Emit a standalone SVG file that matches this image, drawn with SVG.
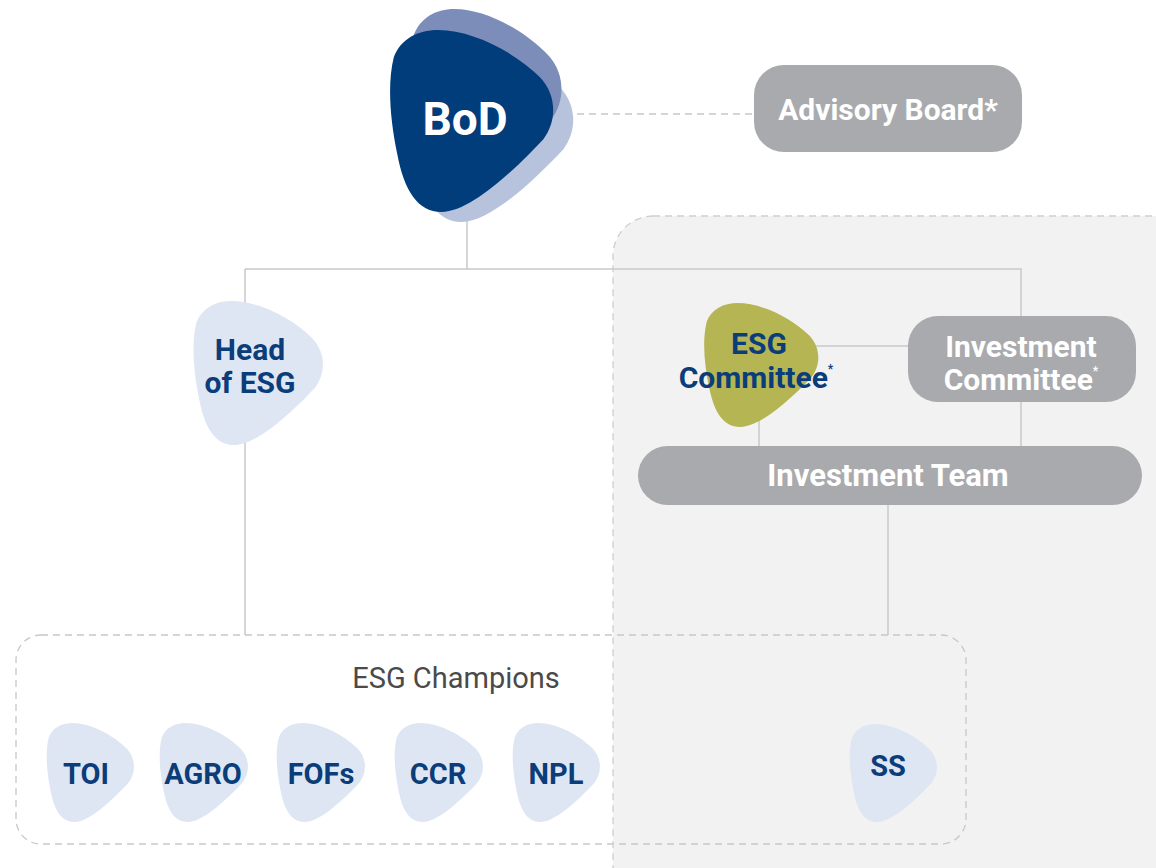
<svg xmlns="http://www.w3.org/2000/svg" width="1156" height="868" viewBox="0 0 1156 868">
<style>
.conn{fill:none;stroke:#c9c9c9;stroke-width:1.5}
.dash{fill:none;stroke:#c8c8c8;stroke-width:1.3;stroke-dasharray:7 5}
.pill{fill:#a9aaad}
.wt{font-family:Roboto,"Liberation Sans",sans-serif;font-weight:700;fill:#ffffff;text-anchor:middle}
.nt{font-family:Roboto,"Liberation Sans",sans-serif;font-weight:700;fill:#0a3d79;text-anchor:middle}
.champ{fill:#dfe6f3}
</style>
<defs>
<symbol id="blob" viewBox="0 0 100 100" preserveAspectRatio="none">
<path d="M30,0 C50,0 75,12 90,26 C100,36 100,50 92,60 C78,74 50,100 32,100 C18,100 10,88 6,68 C2,50 0,30 4,15 C8,5 18,0 30,0 Z"/>
</symbol>
</defs>
<rect width="1156" height="868" fill="#ffffff"/>
<g id="panel">
<rect x="613" y="216" width="620" height="720" rx="40" fill="#f2f2f2" stroke="#cfcfcf" stroke-width="1.3" stroke-dasharray="7 5"/>
</g>
<g id="champions-box">
<rect x="16" y="635" width="950" height="209" rx="25" class="dash"/>
<text x="456" y="688" font-family="Roboto,'Liberation Sans',sans-serif" font-size="29" fill="#4a4a4a" text-anchor="middle">ESG Champions</text>
</g>
<g id="connectors">
<path class="dash" d="M577,114 H754"/>
<path class="conn" d="M467,200 V269"/>
<path class="conn" d="M245,269 H1021 V316"/>
<path class="conn" d="M245,269 V635"/>
<path class="conn" d="M800,346 H908"/>
<path class="conn" d="M759,400 V446"/>
<path class="conn" d="M1021,402 V446"/>
<path class="conn" d="M888,505 V635"/>
</g>
<g id="bod">
<use href="#blob" x="407" y="40" width="170" height="182" fill="#b7c2dc"/>
<use href="#blob" x="407" y="9" width="158" height="182" fill="#7b8db8"/>
<use href="#blob" x="387" y="30" width="170" height="182" fill="#003d7a"/>
<text x="465" y="135" class="wt" font-size="46">BoD</text>
</g>
<g id="advisory-board">
<rect x="754" y="65" width="268" height="87" rx="30" class="pill"/>
<text x="888" y="120" class="wt" font-size="30">Advisory Board*</text>
</g>
<g id="head-of-esg">
<use href="#blob" x="191" y="301" width="135" height="144" class="champ"/>
<text x="250" y="360" class="nt" font-size="30">Head</text>
<text x="250" y="393" class="nt" font-size="30">of ESG</text>
</g>
<g id="esg-committee">
<use href="#blob" x="702" y="303" width="119" height="124" fill="#b5b553"/>
<text x="759" y="354" class="nt" font-size="30">ESG</text>
<text x="756" y="388" class="nt" font-size="30">Committee<tspan font-size="12" dy="-15">*</tspan></text>
</g>
<g id="investment-committee">
<rect x="908" y="316" width="228" height="86" rx="30" class="pill"/>
<text x="1021" y="357" class="wt" font-size="30">Investment</text>
<text x="1021" y="390" class="wt" font-size="30">Committee<tspan font-size="12" dy="-15">*</tspan></text>
</g>
<g id="investment-team">
<rect x="638" y="446" width="504" height="59" rx="29.5" class="pill"/>
<text x="888" y="486" class="wt" font-size="31">Investment Team</text>
</g>
<g id="toi"><use href="#blob" x="45" y="723" width="91" height="99" class="champ"/><text x="86" y="784" class="nt" font-size="29">TOI</text></g>
<g id="agro"><use href="#blob" x="158" y="723" width="92" height="99" class="champ"/><text x="203" y="784" class="nt" font-size="29">AGRO</text></g>
<g id="fofs"><use href="#blob" x="275" y="723" width="92" height="99" class="champ"/><text x="321" y="784" class="nt" font-size="29">FOFs</text></g>
<g id="ccr"><use href="#blob" x="393" y="723" width="92" height="99" class="champ"/><text x="438" y="784" class="nt" font-size="29">CCR</text></g>
<g id="npl"><use href="#blob" x="511" y="723" width="91" height="99" class="champ"/><text x="556" y="784" class="nt" font-size="29">NPL</text></g>
<g id="ss"><use href="#blob" x="848" y="724" width="91" height="98" class="champ"/><text x="888" y="776" class="nt" font-size="29">SS</text></g>
</svg>
